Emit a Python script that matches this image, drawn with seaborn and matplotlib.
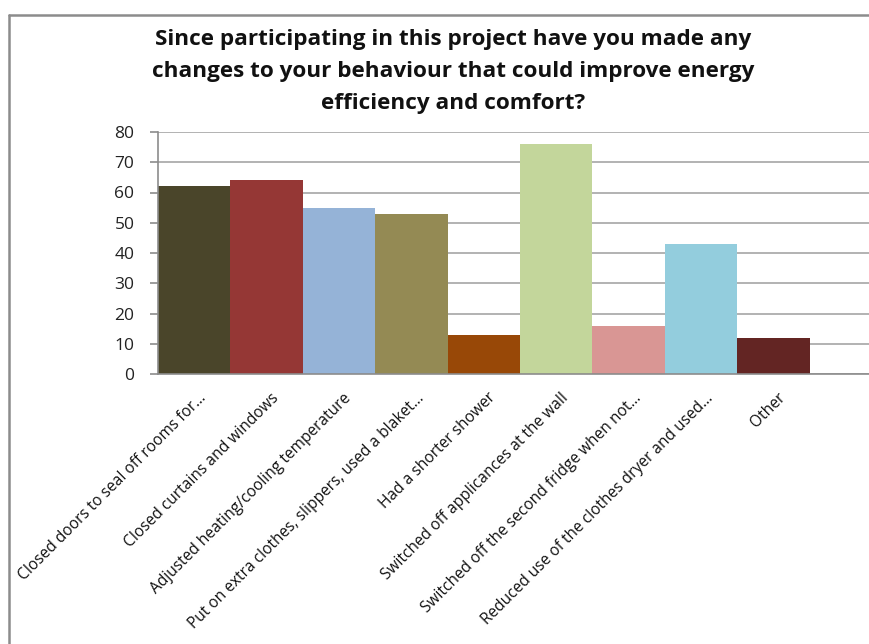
import matplotlib
matplotlib.use("Agg")
import matplotlib.pyplot as plt
import matplotlib.transforms as mtransforms
from matplotlib.lines import Line2D
import seaborn as sns
import pandas as pd

categories = [
    "Closed doors to seal off rooms for...",
    "Closed curtains and windows",
    "Adjusted heating/cooling temperature",
    "Put on extra clothes, slippers, used a blaket...",
    "Had a shorter shower",
    "Switched off applicances at the wall",
    "Switched off the second fridge when not...",
    "Reduced use of the clothes dryer and used...",
    "Other",
]
values = [62, 64, 55, 53, 13, 76, 16, 43, 12]
colors = ["#4A452A", "#953735", "#95B3D7", "#948A54", "#984807",
          "#C3D69B", "#D99694", "#93CDDD", "#632523"]
yticks = [0, 10, 20, 30, 40, 50, 60, 70, 80]
title_lines = ["Since participating in this project have you made any",
               "changes to your behaviour that could improve energy",
               "efficiency and comfort?"]

sns.set_theme(style="white")
plt.rcParams['font.family'] = ['Open Sans', 'DejaVu Sans']

W, H = 870, 644
fig = plt.figure(figsize=(W / 100, H / 100), dpi=100)
ax = fig.add_axes([158 / W, 1 - 374 / H, (880 - 158) / W, (374 - 132) / H])

df = pd.DataFrame({"cat": categories, "val": values})
sns.barplot(data=df, x="cat", y="val", hue="cat", palette=colors,
            width=1.0, saturation=1, legend=False, ax=ax, linewidth=0)

ax.set_xlim(-0.5, -0.5 + (880 - 158) / 72.4)
ax.set_ylim(0, 80)
ax.set_yticks(yticks)
ax.set_yticklabels([str(v) for v in yticks], fontsize=12.5, color="#222222")
ax.yaxis.grid(True, color="#A6A6A6", linewidth=1.2)
ax.set_axisbelow(True)
ax.set_xlabel("")
ax.set_ylabel("")
for side in ["top", "right"]:
    ax.spines[side].set_visible(False)
for side in ["left", "bottom"]:
    ax.spines[side].set_color("#8C8C8C")
    ax.spines[side].set_linewidth(1.2)
ax.tick_params(axis="y", which="both", left=True, length=6, width=1.2,
               color="#8C8C8C", pad=11)
ax.tick_params(axis="x", bottom=False, length=0)

ax.set_xticks(range(len(categories)))
ax.set_xticklabels(categories, rotation=45, ha="right", rotation_mode="anchor",
                   fontsize=11.2, color="#111111")
offset = mtransforms.ScaledTranslation(3 / 72, -8 / 72, fig.dpi_scale_trans)
for lab in ax.get_xticklabels():
    lab.set_transform(lab.get_transform() + offset)

for i, line in enumerate(title_lines):
    fig.text(453 / W, 1 - (39 + 32.5 * i) / H, line, ha="center", va="center",
             fontsize=16.2, fontweight="bold", color="#111111")

fx = 9 / W
fy = 1 - 15 / H
fig.add_artist(Line2D([fx, fx], [fy, -0.01], transform=fig.transFigure,
                      color="#8C8C8C", linewidth=1.8))
fig.add_artist(Line2D([fx, 1.01], [fy, fy], transform=fig.transFigure,
                      color="#8C8C8C", linewidth=1.8))

fig.savefig("out.png", dpi=100)
